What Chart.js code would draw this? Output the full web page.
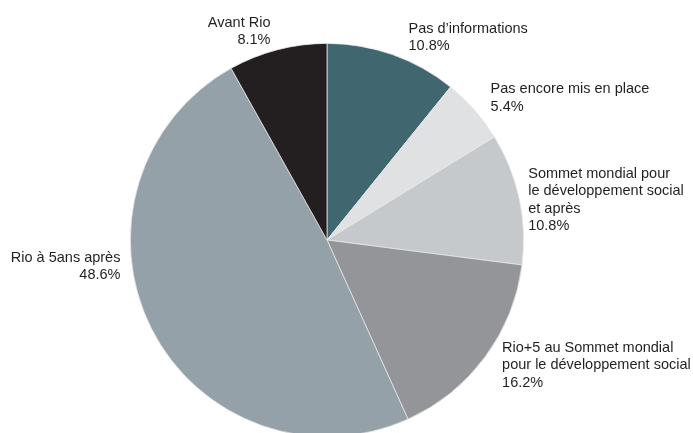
<!DOCTYPE html>
<html>
<head>
<meta charset="utf-8">
<script src="https://cdn.jsdelivr.net/npm/chart.js@4/dist/chart.umd.min.js"></script>
<style>
  html, body { margin: 0; padding: 0; background: #fff; overflow: hidden; }
  #wrap { width: 693px; height: 440px; position: relative; }
</style>
</head>
<body>
<div id="wrap"><canvas id="pie"></canvas></div>
<script>
// Data
const categories = [
    ['Pas d\u2019informations'],
    ['Pas encore mis en place'],
    ['Sommet mondial pour', 'le d\u00e9veloppement social', 'et apr\u00e8s'],
    ['Rio+5 au Sommet mondial', 'pour le d\u00e9veloppement social'],
    ['Rio \u00e0 5ans apr\u00e8s'],
    ['Avant Rio']
];
const shares = [10.8, 5.4, 10.8, 16.2, 48.6, 8.1];
const sliceColors = ['#40666f', '#e0e1e3', '#c5c9cc', '#949599', '#94a1a8', '#231f20'];

// Label placement relative to each slice's outer mid point
const labelLayout = [
    { align: 'left',  dx: 16,  dy: -26 },
    { align: 'left',  dx: 16,  dy: -21 },
    { align: 'left',  dx: 9,   dy: -25 },
    { align: 'left',  dx: 17,  dy: -9 },
    { align: 'right', dx: -31, dy: -71 },
    { align: 'right', dx: -7,  dy: -27 }
];

const sliceLabels = {
    id: 'sliceLabels',
    afterDatasetsDraw(chart) {
        const ctx = chart.ctx;
        const meta = chart.getDatasetMeta(0);
        ctx.save();
        ctx.font = '14.5px "Liberation Sans", Arial, sans-serif';
        ctx.fillStyle = '#231f20';
        ctx.textBaseline = 'middle';
        meta.data.forEach((arc, i) => {
            const mid = (arc.startAngle + arc.endAngle) / 2;
            const ax = arc.x + Math.cos(mid) * arc.outerRadius;
            const ay = arc.y + Math.sin(mid) * arc.outerRadius;
            const lay = labelLayout[i];
            const lines = categories[i].concat([shares[i].toFixed(1) + '%']);
            ctx.textAlign = lay.align;
            lines.forEach((line, k) => {
                ctx.fillText(line, ax + lay.dx, ay + lay.dy + k * 17.5);
            });
        });
        ctx.restore();
    }
};

new Chart(document.getElementById('pie'), {
    type: 'pie',
    data: {
        labels: categories.map(c => c.join(' ')),
        datasets: [{
            data: shares,
            backgroundColor: sliceColors,
            borderColor: '#e8e8e8',
            borderWidth: 0.75
        }]
    },
    options: {
        responsive: true,
        maintainAspectRatio: false,
        animation: false,
        layout: { padding: { top: 43, bottom: 3, left: 130, right: 169 } },
        plugins: {
            legend: { display: false },
            tooltip: { enabled: false }
        }
    },
    plugins: [sliceLabels]
});
</script>
</body>
</html>
